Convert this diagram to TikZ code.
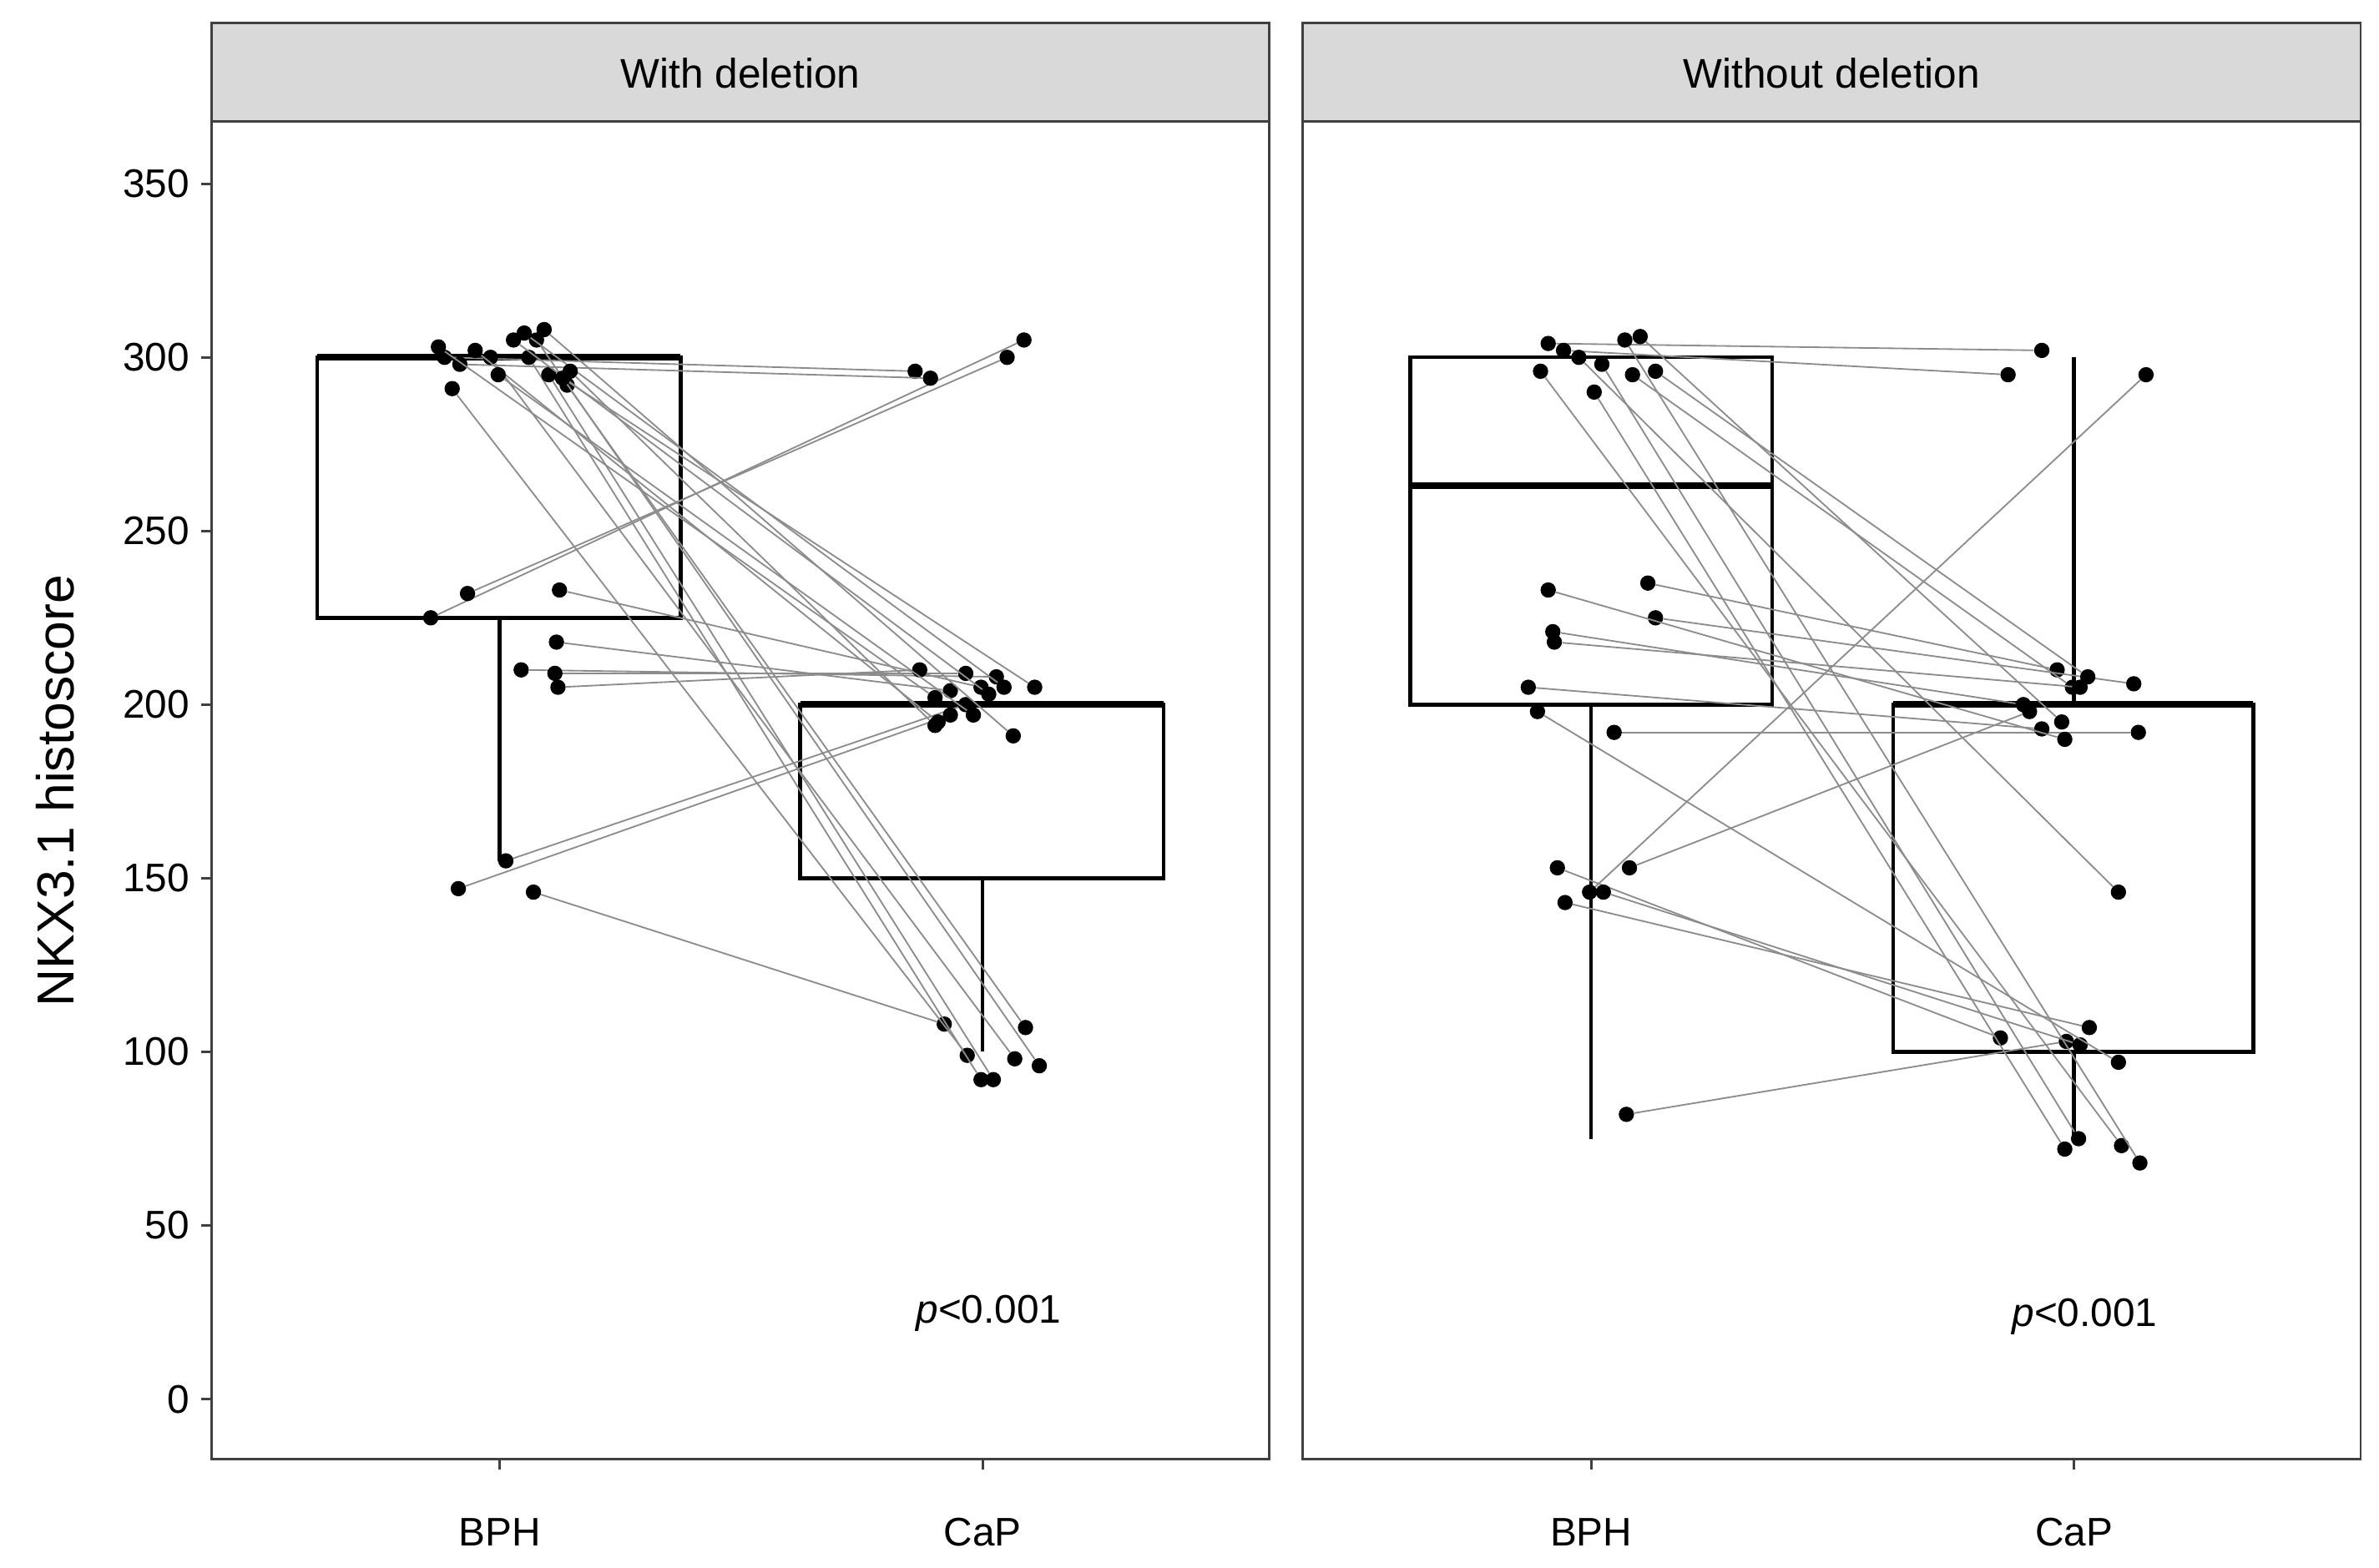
\documentclass[tikz,border=0pt]{standalone}
\usepackage{fontspec}
\setmainfont{Liberation Sans}
\usetikzlibrary{positioning}
\tikzset{
  panel/.style={draw=black!75,line width=1.6pt},
  strip/.style={panel,fill=black!15},
  box/.style={draw=black,line width=2.4pt},
  med/.style={draw=black,line width=4.5pt},
  pair/.style={draw=black!45,line width=1pt},
  dot/.style={circle,fill=black,inner sep=0pt,minimum size=10pt},
  tick/.style={font=\fontsize{26}{30}\selectfont}
}
\newcommand{\vy}[1]{913-2.266*#1}
\begin{document}
\begin{tikzpicture}[x=1pt,y=-1pt]
\useasboundingbox (0,0) rectangle (1552,1023);
% panels
\foreach \px/\ttl in {138/With deletion,850/Without deletion}{
  \draw[strip] (\px,15) rectangle ++(690,64);
  \node[font=\fontsize{27}{30}\selectfont] at (\px+345,48) {\ttl};
  \draw[panel] (\px,79) rectangle ++(690,873);
}
% y axis
\foreach \v in {0,50,...,350}{
  \draw[panel] (131,{\vy{\v}}) -- (138,{\vy{\v}});
  \node[tick,anchor=east] at (127,{\vy{\v}}) {\v};
}
\node[font=\fontsize{34}{38}\selectfont,rotate=90] at (36,516) {NKX3.1 histoscore};
% x axis
\foreach \cx/\lab in {326/BPH,641/CaP,1038/BPH,1353/CaP}{
  \draw[panel] (\cx,952) -- (\cx,959);
  \node[tick] at (\cx,1000) {\lab};
}
% boxes, left panel
\draw[box] (326,{\vy{225}}) -- (326,{\vy{155}});
\draw[box] (207,{\vy{225}}) rectangle (444,{\vy{300}});
\draw[med] (207,{\vy{300}}) -- (444,{\vy{300}});
\draw[box] (641,{\vy{150}}) -- (641,{\vy{100}});
\draw[box] (522,{\vy{150}}) rectangle (759,{\vy{200}});
\draw[med] (522,{\vy{200}}) -- (759,{\vy{200}});
% boxes, right panel
\draw[box] (1038,{\vy{200}}) -- (1038,{\vy{75}});
\draw[box] (920,{\vy{200}}) rectangle (1156,{\vy{300}});
\draw[med] (920,{\vy{263}}) -- (1156,{\vy{263}});
\draw[box] (1353,{\vy{200}}) -- (1353,{\vy{300}});
\draw[box] (1353,{\vy{100}}) -- (1353,{\vy{75}});
\draw[box] (1235,{\vy{100}}) rectangle (1470,{\vy{200}});
\draw[med] (1235,{\vy{200}}) -- (1470,{\vy{200}});
% paired samples
\foreach \bx/\bv/\cx/\cv [count=\i] in {
  281/225/668/305, 305/232/657/300, 290/300/597/296, 300/298/607/294,
  365/233/640/205, 363/218/620/204, 340/210/650/208, 362/209/630/209,
  364/205/600/210, 330/155/630/200, 299/147/620/197, 348/146/616/108,
  295/291/631/99, 370/292/669/107, 320/300/662/98, 350/305/678/96,
  345/300/640/92, 358/295/648/92, 286/303/610/202, 310/302/612/195,
  325/295/635/197, 335/305/645/203, 342/307/655/205, 355/308/661/191,
  367/294/675/205, 372/296/610/194,
  1010/304/1332/302, 1020/302/1310/295, 1037/146/1400/295, 1075/235/1342/210,
  1080/225/1392/206, 1013/221/1320/200, 1053/192/1395/192, 1063/153/1324/198,
  1016/153/1305/104, 1021/143/1363/107, 1061/82/1348/103, 1046/146/1357/102,
  1003/198/1382/97, 1030/300/1382/146, 1045/298/1356/75, 1040/290/1347/72,
  1005/296/1384/73, 1060/305/1396/68, 1070/306/1345/195, 1065/295/1352/205,
  1080/296/1362/208, 997/205/1332/193, 1010/233/1347/190, 1014/218/1357/205}{
  \node[dot] (b\i) at (\bx,{\vy{\bv}}) {};
  \node[dot] (c\i) at (\cx,{\vy{\cv}}) {};
  \draw[pair] (b\i) -- (c\i);
}
% p values
\node[tick] (pl) at (645,857) {\textit{p}<0.001};
\node[tick] (pr) at (1360,859) {\textit{p}<0.001};
\end{tikzpicture}
\end{document}
